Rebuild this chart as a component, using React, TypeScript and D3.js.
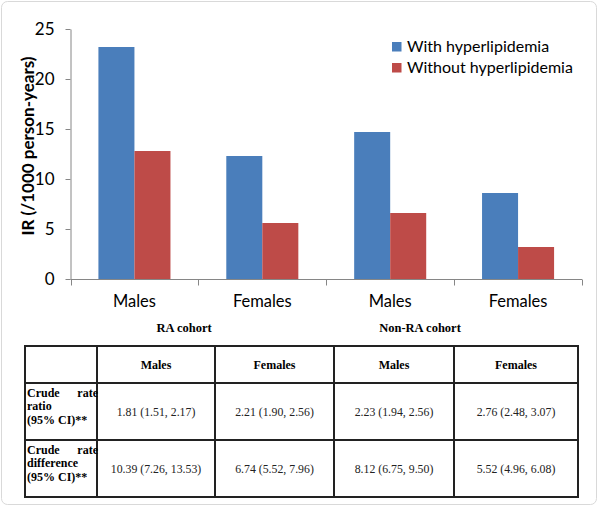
import React, { useRef, useEffect } from 'react';
import * as d3 from 'd3';

// chart data
const categories = ['Males', 'Females', 'Males', 'Females'];
const cohorts = ['RA cohort', 'Non-RA cohort'];
const seriesNames = ['With hyperlipidemia', 'Without hyperlipidemia'];
const withHyper = [23.2, 12.3, 14.7, 8.6];
const withoutHyper = [12.8, 5.6, 6.6, 3.2];
const yTicks = [0, 5, 10, 15, 20, 25];

// table data
const tableHeader = ['', 'Males', 'Females', 'Males', 'Females'];
const rowLabels = [
  ['Crude rate', 'ratio', '(95% CI)**'],
  ['Crude rate', 'difference', '(95% CI)**'],
];
const rateRatio = ['1.81 (1.51, 2.17)', '2.21 (1.90, 2.56)', '2.23 (1.94, 2.56)', '2.76 (2.48, 3.07)'];
const rateDiff = ['10.39 (7.26, 13.53)', '6.74 (5.52, 7.96)', '8.12 (6.75, 9.50)', '5.52 (4.96, 6.08)'];

const colors = ['#4a7ebb', '#be4b48'];
const sans = 'Lato, "Open Sans", sans-serif';
const serif = '"Liberation Serif", "DejaVu Serif", serif';

export default function App() {
  const ref = useRef<SVGSVGElement | null>(null);

  useEffect(() => {
    if (!ref.current) return;
    const svg = d3.select(ref.current);
    svg.selectAll('*').remove();

    // outer frame
    svg.append('rect')
      .attr('x', 1.5).attr('y', 1.5)
      .attr('width', 595).attr('height', 503)
      .attr('rx', 6)
      .attr('fill', '#fff')
      .attr('stroke', '#d9d9d9');

    const x = d3.scaleBand<number>()
      .domain(d3.range(categories.length))
      .range([70.5, 582]);
    const xs = d3.scaleBand<number>()
      .domain([0, 1])
      .range([0, x.bandwidth()])
      .paddingOuter(0.775);
    const y = d3.scaleLinear().domain([0, 25]).range([279, 29]);

    // bars
    const series = [withHyper, withoutHyper];
    series.forEach((vals, si) => {
      svg.append('g').selectAll('rect')
        .data(vals)
        .enter().append('rect')
        .attr('x', (_d, i) => (x(i) as number) + (xs(si) as number))
        .attr('y', d => y(d))
        .attr('width', xs.bandwidth())
        .attr('height', d => y(0) - y(d))
        .attr('fill', colors[si]);
    });

    // y axis
    const gy = svg.append('g').attr('transform', 'translate(70.5,0)');
    gy.call(d3.axisLeft(y).tickValues(yTicks).tickSize(5).tickPadding(11).tickSizeOuter(0));
    gy.select('.domain').attr('stroke', '#868686');
    gy.selectAll('line').attr('stroke', '#868686');
    gy.selectAll('text')
      .attr('font-family', sans)
      .attr('font-size', 17)
      .attr('fill', '#000');

    // x axis
    const gx = svg.append('g').attr('transform', `translate(0,${y(0) + 0.5})`);
    gx.append('line')
      .attr('x1', x.range()[0]).attr('x2', x.range()[1])
      .attr('stroke', '#868686');
    const edges = [...categories.map((_c, i) => x(i) as number), x.range()[1]];
    gx.selectAll('.tk').data(edges).enter().append('line')
      .attr('x1', d => Math.round(d) + 0.5).attr('x2', d => Math.round(d) + 0.5)
      .attr('y1', 0).attr('y2', 6)
      .attr('stroke', '#868686');
    gx.selectAll('.lb').data(categories).enter().append('text')
      .attr('x', (_d, i) => (x(i) as number) + x.bandwidth() / 2)
      .attr('y', 27)
      .attr('text-anchor', 'middle')
      .attr('font-family', sans)
      .attr('font-size', 16.5)
      .text(d => d);

    // y title
    svg.append('text')
      .attr('transform', 'translate(34,146) rotate(-90)')
      .attr('text-anchor', 'middle')
      .attr('font-family', sans)
      .attr('font-weight', 'bold')
      .attr('font-size', 17)
      .text('IR (/1000 person-years)');

    // cohort labels
    const cohortX = [184, 420];
    svg.selectAll('.cohort').data(cohorts).enter().append('text')
      .attr('x', (_d, i) => cohortX[i])
      .attr('y', 332)
      .attr('text-anchor', 'middle')
      .attr('font-family', serif)
      .attr('font-weight', 'bold')
      .attr('font-size', 12.5)
      .text(d => d);

    // legend
    const lg = svg.append('g').attr('transform', 'translate(392,42)');
    seriesNames.forEach((name, i) => {
      lg.append('rect')
        .attr('x', 0).attr('y', i * 21)
        .attr('width', 9.5).attr('height', 9.5)
        .attr('fill', colors[i]);
      lg.append('text')
        .attr('x', 15).attr('y', i * 21 + 10)
        .attr('font-family', sans)
        .attr('font-size', 16)
        .text(name);
    });

    // table
    const colX = [25, 97, 215, 334, 454, 578];
    const rowY = [346, 383, 440, 497];
    const tb = svg.append('g');
    colX.forEach(cx => {
      tb.append('line').attr('x1', cx).attr('x2', cx)
        .attr('y1', rowY[0] - 1).attr('y2', rowY[rowY.length - 1] + 1)
        .attr('stroke', '#222').attr('stroke-width', 2);
    });
    rowY.forEach(ry => {
      tb.append('line').attr('x1', colX[0] - 1).attr('x2', colX[colX.length - 1] + 1)
        .attr('y1', ry).attr('y2', ry)
        .attr('stroke', '#222').attr('stroke-width', 2);
    });
    tableHeader.forEach((h, i) => {
      if (!h) return;
      tb.append('text')
        .attr('x', (colX[i] + colX[i + 1]) / 2)
        .attr('y', 369)
        .attr('text-anchor', 'middle')
        .attr('font-family', serif)
        .attr('font-weight', 'bold')
        .attr('font-size', 12)
        .text(h);
    });
    [rateRatio, rateDiff].forEach((row, r) => {
      const cy = (rowY[r + 1] + rowY[r + 2]) / 2 + 4.5;
      row.forEach((v, i) => {
        tb.append('text')
          .attr('x', (colX[i + 1] + colX[i + 2]) / 2)
          .attr('y', cy)
          .attr('text-anchor', 'middle')
          .attr('font-family', serif)
          .attr('font-size', 11.8)
          .attr('fill', '#222')
          .text(v);
      });
      const top = rowY[r + 1] + 13.5;
      rowLabels[r].forEach((ln, li) => {
        const ty = top + li * 13.5;
        const t = tb.append('g')
          .attr('font-family', serif)
          .attr('font-weight', 'bold')
          .attr('font-size', 12);
        if (li === 0) {
          const [a, b] = ln.split(' ');
          t.append('text').attr('x', 27).attr('y', ty).text(a);
          t.append('text').attr('x', 98).attr('y', ty).attr('text-anchor', 'end').text(b);
        } else {
          t.append('text').attr('x', 27).attr('y', ty).text(ln);
        }
      });
    });
  }, []);

  return (
    <svg
      ref={ref}
      width={600}
      height={508}
      style={{ position: 'absolute', left: 0, top: 0, background: '#fff' }}
    />
  );
}
